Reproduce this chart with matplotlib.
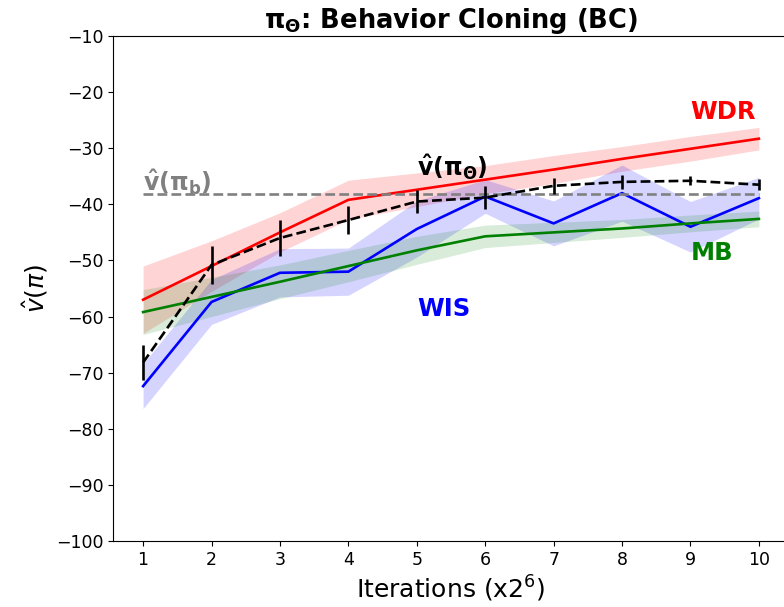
#!/usr/bin/env python
# -*- coding: utf-8 -*-

"""
Off-policy evaluation curves for the BC policy
"""

import matplotlib
matplotlib.use('Agg')
import matplotlib.pyplot as plt
import numpy as np

# data
iterations = [1, 2, 3, 4, 5, 6, 7, 8, 9, 10]
wdr_mean = [-57.0, -51.0, -45.0, -39.2, -37.4, -35.6, -33.8, -31.9, -30.1, -28.3]
wdr_std = [6.0, 4.5, 3.5, 3.5, 3.0, 2.5, 2.5, 2.2, 2.2, 2.0]
wis_mean = [-72.4, -57.4, -52.2, -52.0, -44.4, -38.6, -43.4, -38.0, -44.0, -38.9]
wis_std = [4.0, 4.0, 4.3, 4.2, 5.0, 3.0, 4.0, 5.0, 4.5, 3.7]
mb_mean = [-59.2, -56.5, -53.8, -51.0, -48.2, -45.7, -45.0, -44.3, -43.4, -42.6]
mb_std = [4.0, 3.5, 3.0, 2.8, 2.5, 2.0, 1.8, 1.6, 1.5, 1.4]
true_mean = [-68.2, -50.8, -46.0, -42.8, -39.5, -38.8, -36.7, -36.0, -35.8, -36.5]
true_err = [3.1, 3.4, 3.2, 2.5, 2.0, 2.0, 1.4, 1.2, 0.8, 1.0]
behavior_value = -38.2

fig = plt.figure(figsize=(7.84, 6.07), dpi=100)
ax = fig.add_axes([113 / 784, 1 - 541 / 607, 676 / 784, 505 / 607])

x = np.array(iterations)


def draw_band(ax, x, mean, std, color, alpha):
    """均值曲线加阴影带"""
    mean = np.array(mean)
    std = np.array(std)
    ax.fill_between(x, mean - std, mean + std, color=color, alpha=alpha, linewidth=0)
    ax.plot(x, mean, '-', color=color, linewidth=1.9)


draw_band(ax, x, wdr_mean, wdr_std, 'red', 0.17)
draw_band(ax, x, wis_mean, wis_std, 'blue', 0.17)
draw_band(ax, x, mb_mean, mb_std, 'green', 0.15)

# behavior policy value
ax.plot([x[0], x[-1]], [behavior_value, behavior_value], '--', color='gray', linewidth=1.9)

# true value with error bars
ax.errorbar(x, true_mean, yerr=true_err, fmt='--', color='black', linewidth=1.9,
            elinewidth=1.9, capsize=0)

# curve labels
ax.text(9, -23.5, 'WDR', color='red', fontsize=17.5, fontweight='bold', ha='left', va='center')
ax.text(9, -48.7, 'MB', color='green', fontsize=17.5, fontweight='bold', ha='left', va='center')
ax.text(5, -58.7, 'WIS', color='blue', fontsize=17.5, fontweight='bold', ha='left', va='center')
ax.text(5, -33.3, r'$\mathbf{\hat{v}(\pi_\Theta)}$', color='black', fontsize=17,
        ha='left', va='center')
ax.text(1, -36.0, r'$\mathbf{\hat{v}(\pi_b)}$', color='gray', fontsize=17,
        ha='left', va='center')

ax.set_xlim(0.56, 10.44)
ax.set_ylim(-100, -10)
ax.set_xticks(iterations)
ax.set_yticks(np.arange(-100, -9, 10))
ax.tick_params(labelsize=12.5)
ax.set_xlabel(r'Iterations (x2$^6$)', fontsize=18)
ax.set_ylabel(r'$\hat{v}(\pi)$', fontsize=18)
ax.set_title(r'$\mathbf{\pi_\Theta}$: Behavior Cloning (BC)', fontsize=18.5, fontweight='bold')

plt.savefig('out.png', dpi=100)
